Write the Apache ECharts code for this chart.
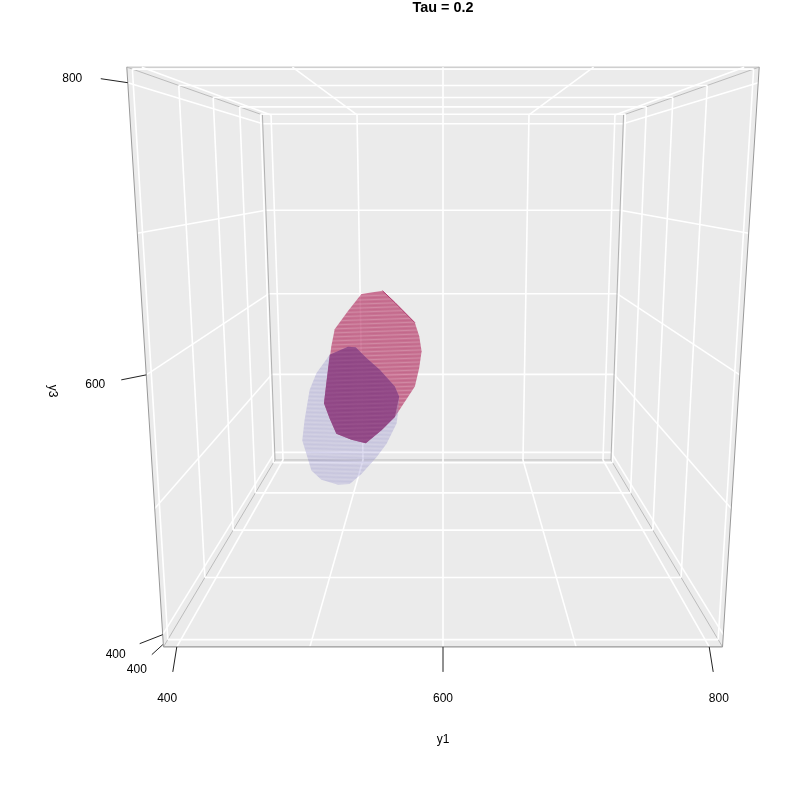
<!DOCTYPE html>
<html>
<head>
<meta charset="utf-8">
<style>html,body{margin:0;padding:0;background:#fff}#c{width:800px;height:800px}</style>
<script src="https://cdn.jsdelivr.net/npm/echarts@6/dist/echarts.min.js"></script>
</head>
<body>
<div id="c"></div>
<script>
// ---- data (y1, y3 outlines of the two regions, read at the y2 = 600 slice) ----
const ticks = [400, 500, 600, 700, 800];
const labelledTicks = [400, 600, 800];
const limits = [390, 810];
const sliceY2 = 600;
const redY1 = [522.4,542.5,554.1,573.1,577.2,579.4,577.0,572.7,559.6,553.0,539.8,524.2,510.2,495.5,489.3,484.1,486.9,492.6,496.2,509.3];
const redY3 = [628.7,631.8,620.6,601.0,587.8,573.0,556.4,538.0,517.7,507.5,493.9,480.8,484.3,490.5,505.9,521.2,541.4,577.9,594.5,612.4];
const blueY1 = [508.6,516.0,526.2,538.9,553.3,557.4,556.3,554.6,544.6,534.5,519.4,507.6,496.0,479.6,470.0,465.5,461.9,464.7,470.5,477.5,490.8];
const blueY3 = [577.4,577.0,566.4,554.7,538.0,527.9,512.6,500.8,480.2,466.3,449.0,438.5,437.8,443.0,452.5,469.8,483.6,504.1,534.6,551.4,569.7];

// ---- viewing transform of the perspective box ----
function project(a, b, c) {
  const X = (a - 600) / 210, Y = (b - 600) / 210, Z = (c - 600) / 210;
  const w = 0.004558 + 0.001188 * Y - 0.0002075 * Z;
  return [443 + X / w, (1.4754 + 0.2121 * Y - 1.051 * Z) / w];
}
const [lo, hi] = limits;

const white = [], gray = [], side = [], back = [], dark = [];
ticks.forEach(t => {
  white.push([t,lo,lo,t,hi,lo],[lo,t,lo,hi,t,lo]);   // floor
  white.push([t,lo,hi,t,hi,hi],[lo,t,hi,hi,t,hi]);   // ceiling
  white.push([t,hi,lo,t,hi,hi],[lo,hi,t,hi,hi,t]);   // back wall
  white.push([lo,t,lo,lo,t,hi],[lo,lo,t,lo,hi,t]);   // left wall
  white.push([hi,t,lo,hi,t,hi],[hi,lo,t,hi,hi,t]);   // right wall
});
gray.push(
  [lo,lo,hi,hi,lo,hi],[lo,lo,hi,lo,hi,hi],[hi,lo,hi,hi,hi,hi],
  [lo,lo,lo,lo,hi,lo],[hi,lo,lo,hi,hi,lo],[lo,hi,lo,hi,hi,lo]
);
side.push([lo,lo,lo,lo,lo,hi],[hi,lo,lo,hi,lo,hi]);
back.push([lo,hi,lo,lo,hi,hi],[hi,hi,lo,hi,hi,hi]);
dark.push([lo,lo,lo,hi,lo,lo]);

const faces = [
  [[lo,lo,lo],[hi,lo,lo],[hi,hi,lo],[lo,hi,lo]],
  [[lo,lo,hi],[hi,lo,hi],[hi,hi,hi],[lo,hi,hi]],
  [[lo,hi,lo],[hi,hi,lo],[hi,hi,hi],[lo,hi,hi]],
  [[lo,lo,lo],[lo,hi,lo],[lo,hi,hi],[lo,lo,hi]],
  [[hi,lo,lo],[hi,hi,lo],[hi,hi,hi],[hi,lo,hi]]
];

const zip3 = (xs, zs) => xs.map((x, i) => [x, sliceY2, zs[i]]);
const red = zip3(redY1, redY3);
const blue = zip3(blueY1, blueY3);
const overlap = blue.slice(0, 6).concat(red.slice(9, 17), blue.slice(20));
const redEdge = [];
for (let i = 2; i < 4; i++) redEdge.push(red[i - 1].concat(red[i]));

// ---- mesh-like stripe textures ----
function stripes(base, lines, step, tilt) {
  const W = 120, H = step * 8, cv = document.createElement('canvas');
  cv.width = W; cv.height = H;
  const g = cv.getContext('2d');
  g.fillStyle = base; g.fillRect(0, 0, W, H);
  g.lineWidth = 1;
  lines.forEach((col, k) => {
    g.strokeStyle = col;
    for (let y = -2 * H; y <= 2 * H; y += step * lines.length) {
      g.beginPath();
      g.moveTo(0, y + k * step);
      g.lineTo(W, y + k * step + tilt * step * lines.length);
      g.stroke();
    }
  });
  return { image: cv, repeat: 'repeat' };
}
const redFill = stripes('rgba(178,40,92,0.62)', ['rgba(255,255,255,0.16)','rgba(160,20,80,0.10)'], 2, -1);
const blueFill = stripes('rgba(135,130,200,0.30)', ['rgba(255,255,255,0.12)','rgba(110,110,190,0.06)'], 2, 1);
const overlapFill = stripes('rgba(144,72,134,0.95)', ['rgba(200,130,170,0.12)','rgba(115,40,105,0.10)'], 2, -1);

const chart = echarts.init(document.getElementById('c'), null, { renderer: 'canvas' });
const toPix = (api, p) => api.coord(project(p[0], p[1], p[2]));

function lineSeries(data, color, width, z) {
  return {
    type: 'custom', coordinateSystem: 'cartesian2d', silent: true, z, clip: false, data,
    renderItem: (params, api) => {
      const a = toPix(api, [api.value(0), api.value(1), api.value(2)]);
      const b = toPix(api, [api.value(3), api.value(4), api.value(5)]);
      return { type: 'line', shape: { x1: a[0], y1: a[1], x2: b[0], y2: b[1] },
        style: { stroke: color, lineWidth: width, fill: null } };
    }
  };
}
function polySeries(polys, fill, z) {
  return {
    type: 'custom', coordinateSystem: 'cartesian2d', silent: true, z, clip: false,
    data: polys.map((_, i) => [i]),
    renderItem: (params, api) => ({
      type: 'polygon',
      shape: { points: polys[api.value(0)].map(p => toPix(api, p)) },
      style: { fill, stroke: null }
    })
  };
}

// ticks and tick labels: start on the box, then offset outwards on the page
const tickRows = [];
labelledTicks.forEach(t => {
  tickRows.push({ at: [t, lo, lo], s: [0, 0], d: [(t - 600) * 0.02, 25], l: [(t - 600) * 0.048, 51.5], text: t });
});
const y3Tick = { 400: [[-23, 9], [-47, 20.5]], 600: [[-25, 5], [-51, 9.5]], 800: [[-27, -4], [-55.5, -4]] };
labelledTicks.forEach(t => {
  tickRows.push({ at: [lo, lo, t], s: [0, 0], d: y3Tick[t][0], l: y3Tick[t][1], text: t });
});
tickRows.push({ at: [lo, ticks[0], lo], s: [-5, 5], d: [-16, 15], l: [-31, 30], text: ticks[0] });

const tickSeries = {
  type: 'custom', coordinateSystem: 'cartesian2d', silent: true, z: 9, clip: false,
  data: tickRows.map((_, i) => [i]),
  renderItem: (params, api) => {
    const r = tickRows[api.value(0)];
    const p = toPix(api, r.at);
    return { type: 'group', children: [
      { type: 'line', shape: { x1: p[0] + r.s[0], y1: p[1] + r.s[1], x2: p[0] + r.d[0], y2: p[1] + r.d[1] },
        style: { stroke: '#222', lineWidth: 1, fill: null } },
      { type: 'text', x: p[0] + r.l[0], y: p[1] + r.l[1],
        style: { text: String(r.text), fill: '#000', font: '12px "Liberation Sans"', align: 'center', verticalAlign: 'middle' } }
    ] };
  }
};

chart.setOption({
  animation: false,
  backgroundColor: '#ffffff',
  grid: { left: 0, right: 0, top: 0, bottom: 0 },
  xAxis: { type: 'value', min: 0, max: 800, show: false },
  yAxis: { type: 'value', min: 0, max: 800, inverse: true, show: false },
  graphic: [
    { type: 'text', x: 443, y: 8.5, style: { text: 'Tau = 0.2', font: 'bold 14.4px "Liberation Sans"', fill: '#000', align: 'center', verticalAlign: 'middle' } },
    { type: 'text', x: 443, y: 739.5, style: { text: 'y1', font: '12px "Liberation Sans"', fill: '#000', align: 'center', verticalAlign: 'middle' } },
    { type: 'text', x: 52, y: 391, rotation: -Math.PI / 2, style: { text: 'y3', font: '12px "Liberation Sans"', fill: '#000', align: 'center', verticalAlign: 'middle' } }
  ],
  series: [
    polySeries(faces, '#EBEBEB', 1),
    lineSeries(gray, '#bbbbbb', 1, 2),
    lineSeries(white, '#ffffff', 1.6, 3),
    lineSeries(back, '#b0b0b0', 1, 4),
    lineSeries(side, '#999999', 1, 4),
    lineSeries(dark, '#999999', 1.2, 4),
    polySeries([red], redFill, 5),
    polySeries([blue], blueFill, 6),
    polySeries([overlap], overlapFill, 7),
    lineSeries(redEdge, 'rgba(165,20,85,0.8)', 1, 8),
    tickSeries
  ]
});
</script>
</body>
</html>
